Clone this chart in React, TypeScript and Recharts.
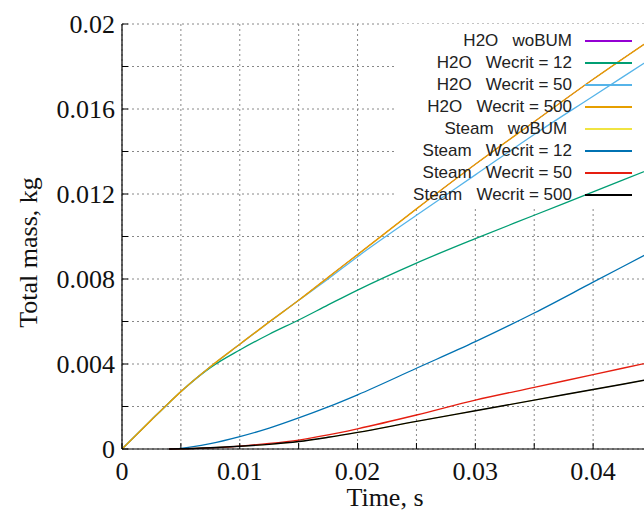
import React from 'react';
import { LineChart, Line, XAxis, YAxis, CartesianGrid, ReferenceArea, Legend } from 'recharts';

const time = [0, 0.0025, 0.004, 0.005, 0.0075, 0.01, 0.0125, 0.015, 0.0175, 0.02, 0.025, 0.03, 0.035, 0.04, 0.045];
const h2oWoBUM = [0, 0.00137, 0.00218, 0.0027, 0.00387, 0.00493, 0.00598, 0.007, 0.00808, 0.00915, 0.0113, 0.0134, 0.0154, 0.0174, 0.0193];
const h2oWe12 = [0, 0.00137, 0.00218, 0.0027, 0.00383, 0.00466, 0.0054, 0.00607, 0.00678, 0.00748, 0.00875, 0.0099, 0.011, 0.0121, 0.0132];
const h2oWe50 = [0, 0.00137, 0.00218, 0.0027, 0.00387, 0.00493, 0.00598, 0.007, 0.008, 0.00905, 0.011, 0.0129, 0.0148, 0.0166, 0.0184];
const h2oWe500 = [0, 0.00137, 0.00218, 0.0027, 0.00387, 0.00493, 0.00598, 0.007, 0.00808, 0.00915, 0.0113, 0.0134, 0.0154, 0.0174, 0.0193];
const steamWoBUM = [null, null, 0, 0.00001, 0.00006, 0.00013, 0.00022, 0.00035, 0.00055, 0.00078, 0.0013, 0.0018, 0.0023, 0.0028, 0.0033];
const steamWe12 = [null, null, 0, 0.00003, 0.00025, 0.00058, 0.00098, 0.00146, 0.00198, 0.00255, 0.0038, 0.00505, 0.0064, 0.00785, 0.0093];
const steamWe50 = [null, null, 0, 0.00001, 0.00005, 0.00014, 0.00026, 0.00042, 0.00066, 0.00095, 0.0016, 0.0023, 0.0029, 0.0035, 0.0041];
const steamWe500 = [null, null, 0, 0.00001, 0.00006, 0.00013, 0.00022, 0.00035, 0.00055, 0.00078, 0.0013, 0.0018, 0.0023, 0.0028, 0.0033];

const xTicks = [0, 0.005, 0.01, 0.015, 0.02, 0.025, 0.03, 0.035, 0.04, 0.045];
const yTicks = [0, 0.002, 0.004, 0.006, 0.008, 0.01, 0.012, 0.014, 0.016, 0.018, 0.02];

const series = [
  { key: 'h2oWo', label: 'H2O   woBUM', color: '#9400D3', width: 1.0, values: h2oWoBUM },
  { key: 'h2o12', label: 'H2O   Wecrit = 12', color: '#009E73', width: 1.3, values: h2oWe12 },
  { key: 'h2o50', label: 'H2O   Wecrit = 50', color: '#56B4E9', width: 1.3, values: h2oWe50 },
  { key: 'h2o500', label: 'H2O   Wecrit = 500', color: '#E69F00', width: 1.5, values: h2oWe500 },
  { key: 'stWo', label: 'Steam   woBUM ', color: '#F0E442', width: 1.0, values: steamWoBUM },
  { key: 'st12', label: 'Steam   Wecrit = 12', color: '#0072B2', width: 1.3, values: steamWe12 },
  { key: 'st50', label: 'Steam   Wecrit = 50', color: '#E51E10', width: 1.3, values: steamWe50 },
  { key: 'st500', label: 'Steam   Wecrit = 500', color: '#000000', width: 1.4, values: steamWe500 },
];

const data = time.map((t, i) => {
  const row: Record<string, number | null> = { t };
  series.forEach((s) => {
    row[s.key] = s.values[i];
  });
  return row;
});

const serif = '"Liberation Serif", "Times New Roman", serif';
const sans = '"Liberation Sans", Arial, sans-serif';

const fmtX = (v: number) => {
  const m = Math.round(v * 1000);
  if (m % 10 !== 0) return '';
  return String(parseFloat(v.toFixed(2)));
};
const fmtY = (v: number) => {
  const m = Math.round(v * 1000);
  if (m % 4 !== 0) return '';
  return String(parseFloat(v.toFixed(3)));
};

const LegendContent = () => (
  <div style={{ fontFamily: sans, fontSize: 17, color: '#222' }}>
    {series.map((s) => (
      <div key={s.key} style={{ display: 'flex', alignItems: 'center', height: 22 }}>
        <span style={{ width: 192, textAlign: 'right', whiteSpace: 'pre', lineHeight: '22px' }}>{s.label}</span>
        <svg width={60} height={22} style={{ display: 'block' }}>
          <line x1={13} x2={60} y1={11} y2={11} stroke={s.color} strokeWidth={2} />
        </svg>
      </div>
    ))}
  </div>
);

export default function App() {
  return (
    <div style={{ position: 'absolute', left: 0, top: 0, width: 644, height: 512, overflow: 'hidden', background: '#fff' }}>
      <LineChart width={660} height={512} data={data} margin={{ top: 24, right: 8, bottom: 0, left: 0 }}>
        <CartesianGrid stroke="#888" strokeDasharray="2 3" strokeWidth={1} />
        <ReferenceArea x1={0.0231} x2={0.045} y1={0.0114} y2={0.02} fill="#ffffff" fillOpacity={1} stroke="none" />
        <XAxis
          dataKey="t"
          type="number"
          domain={[0, 0.045]}
          ticks={xTicks}
          allowDataOverflow
          height={63}
          tickSize={-6}
          tickMargin={19}
          tickFormatter={fmtX}
          interval={0}
          tick={{ fontSize: 26, fontFamily: serif, fill: '#111' }}
          axisLine={{ stroke: '#000', strokeWidth: 1.2 }}
          tickLine={{ stroke: '#000' }}
          label={{
            content: (p: any) => {
              const vb = p.viewBox;
              return (
                <text x={vb.x + vb.width / 2 - 2} y={vb.y + 57} textAnchor="middle" fontSize={26} fontFamily={serif} fill="#111">
                  Time, s
                </text>
              );
            },
          }}
        />
        <XAxis
          xAxisId="top"
          orientation="top"
          dataKey="t"
          type="number"
          domain={[0, 0.045]}
          ticks={xTicks}
          height={0}
          tickSize={-6}
          tick={false}
          axisLine={{ stroke: '#000', strokeWidth: 1.2 }}
          tickLine={{ stroke: '#000' }}
        />
        <YAxis
          type="number"
          domain={[0, 0.02]}
          ticks={yTicks}
          interval={0}
          width={122}
          tickSize={-6}
          tickMargin={13}
          tickFormatter={fmtY}
          tick={{ fontSize: 26, fontFamily: serif, fill: '#111' }}
          axisLine={{ stroke: '#000', strokeWidth: 1.2 }}
          tickLine={{ stroke: '#000' }}
          label={{
            content: (p: any) => {
              const vb = p.viewBox;
              const cx = 37;
              const cy = vb.y + vb.height / 2 + 16;
              return (
                <text x={cx} y={cy} transform={`rotate(-90, ${cx}, ${cy})`} textAnchor="middle" fontSize={26} fontFamily={serif} fill="#111">
                  Total mass, kg
                </text>
              );
            },
          }}
        />
        <Legend
          layout="vertical"
          align="center"
          verticalAlign="middle"
          wrapperStyle={{ top: 30, left: 380, width: 260 }}
          content={LegendContent}
        />
        {series.map((s) => (
          <Line
            key={s.key}
            dataKey={s.key}
            name={s.label}
            stroke={s.color}
            strokeWidth={s.width}
            type="monotone"
            dot={false}
            activeDot={false}
            isAnimationActive={false}
          />
        ))}
      </LineChart>
    </div>
  );
}
